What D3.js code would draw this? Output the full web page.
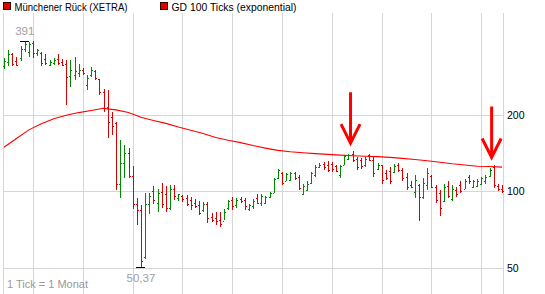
<!DOCTYPE html>
<html>
<head>
<meta charset="utf-8">
<script src="https://cdn.jsdelivr.net/npm/d3@7/dist/d3.min.js"></script>
<style>
  body { margin: 0; background: #fff; }
  svg { display: block; font-family: "Liberation Sans", Arial, sans-serif; }
</style>
</head>
<body>
<div id="chart"></div>
<script>
// monthly bars, June 2000 .. June 2010
const months = d3.timeMonth.range(new Date(2000, 5, 1), new Date(2010, 6, 1));

const open = [
  310, 322, 345, 325, 335, 362, 352, 382, 348, 350,
  330, 313, 318, 330, 322, 315, 283, 285, 290, 298,
  262, 285, 296, 275, 246, 215, 195, 185, 107, 129,
  141, 115, 89, 84, 55, 89, 100, 90, 99, 97,
  86, 102, 94, 96, 94, 92, 90, 88, 84, 89,
  79, 78, 77, 76, 86, 92, 88, 93, 92, 85,
  87, 94, 90, 90, 95, 98, 112, 118, 109, 110,
  118, 114, 97, 101, 108, 116, 124, 128, 127, 128,
  125, 116, 127, 134, 140, 134, 132, 126, 138, 133,
  122, 126, 118, 120, 119, 126, 121, 114, 106, 99,
  106, 95, 106, 115, 104, 98, 91, 105, 93, 101,
  106, 102, 114, 104, 105, 107, 109, 115, 124, 105, 102
];
const high = [
  335, 359, 350, 338, 372, 391, 387, 390, 362, 352,
  347, 328, 334, 347, 331, 328, 328, 337, 317, 305,
  286, 308, 299, 277, 251, 250, 205, 187, 159, 152,
  147, 125, 94, 88, 98, 98, 105, 102, 108, 105,
  106, 106, 97, 96.5, 96.5, 95, 93, 91, 90.5, 90.5,
  82, 83, 83, 85, 92, 95, 94, 95, 94, 89,
  93, 97, 97, 96, 99, 113, 122, 119, 118, 119,
  119, 116, 107, 109, 119, 126, 128.5, 130, 131, 130,
  126.5, 126.5, 138.5, 139.5, 143.5, 136.5, 134.5, 136.5, 139.5, 136.5,
  128.5, 126.5, 121, 124.5, 127.5, 128.5, 123, 117.5, 109, 115.5,
  107, 113, 123, 116, 105.5, 101, 106.5, 109.5, 105.5, 104,
  109, 111, 115.5, 110.5, 111, 114, 115.5, 123, 126, 106.5, 105.5
];
const low = [
  302, 309, 309, 309, 325, 352, 338, 335, 340, 309,
  314, 309, 314, 314, 309, 218, 257, 273, 282, 287,
  250, 282, 273, 239, 205, 162, 166, 101, 94, 112,
  112, 85, 73.5, 50.37, 54, 81, 89, 83, 86, 83,
  84, 92, 91, 90.5, 87, 84, 86, 80.5, 83, 75,
  75.5, 73.5, 72, 77, 84, 84, 86, 89.5, 84.5, 83.5,
  85, 89, 87, 89, 94, 98, 111, 105.5, 109, 109,
  110.5, 101, 96.5, 100, 107, 114, 123, 121, 119, 119,
  118.5, 112, 126.5, 132.5, 130, 121, 122, 124.5, 131, 114,
  121, 107, 110.5, 107, 117.5, 119, 109, 101, 102.5, 94,
  76, 93, 101, 102.5, 89.5, 80, 90.5, 93.5, 91.5, 95,
  98, 102, 107, 102.5, 104, 105.5, 107, 114, 102.5, 100, 98
];
const close = [
  325, 345, 315, 312, 362, 378, 380, 348, 358, 320,
  318, 322, 328, 320, 312, 280, 300, 296, 298, 290,
  278, 300, 278, 245, 212, 187, 180, 107, 129, 141,
  115, 89, 84, 53, 89, 96, 92, 98, 89, 86,
  102, 96, 97, 93, 89, 88, 87, 82, 89, 78,
  77, 76, 74, 83, 91, 87, 92, 91, 87, 88,
  91, 90, 96, 95, 98, 111, 121, 108, 117, 118,
  112, 103, 105, 107, 118, 124, 127, 124, 121, 122,
  120, 125, 137, 138, 132, 124, 125, 134, 133, 118,
  127, 110, 112, 109, 125, 121, 112, 104, 104, 110,
  95, 108, 118, 104, 92, 86, 104, 96, 102, 97,
  100, 109, 109, 109, 109, 112, 114, 121, 106, 102, 100
];

// GD 100 (exponential), read every third month
const emaIndex = d3.range(0, 121, 3);
const ema = [
  148.6, 161, 174, 184, 192.5, 198.5, 203.5, 207.5, 211.5, 208.5,
  203.5, 195, 189.5, 184.5, 178.5, 173.5, 168.5, 162.5, 158.3, 155,
  151, 147.5, 144.5, 142.8, 141.5, 140.3, 139.3, 138.4, 137.7, 137.1,
  136.5, 135.6, 134.4, 133, 131.6, 129.8, 128, 126.6, 125.1, 124.8, 124.2
];

const yTicks = [50, 100, 200];
const arrowAt = [83, 117];      // arrow sits between bar i and i+1
const legend = [
  { label: "Münchener Rück (XETRA)", w: 113 },
  { label: "GD 100 Ticks (exponential)", w: 125 }
];

const W = 545, H = 294;
const green = "#008a00", red = "#dd0000";

const svg = d3.select("#chart").append("svg")
  .attr("width", W).attr("height", H);

const x = d3.scaleLinear().domain([0, 120]).range([4, 502]);
const y = d3.scaleLog().domain([50, 400]).range([267.5, 38]);
const plotL = 3, plotR = 503, plotT = 13, plotB = H;

// grid
const grid = svg.append("g").attr("stroke", "#d6d6d6").attr("shape-rendering", "crispEdges");
const janIdx = months.map((m, i) => m.getMonth() === 0 ? i : -1).filter(i => i >= 0);
grid.selectAll("line.v").data(janIdx).join("line").attr("class", "v")
  .attr("x1", i => Math.round(x(i)) + 0.5).attr("x2", i => Math.round(x(i)) + 0.5)
  .attr("y1", plotT).attr("y2", plotB);
grid.selectAll("line.h").data(yTicks).join("line").attr("class", "h")
  .attr("x1", plotL).attr("x2", plotR)
  .attr("y1", d => Math.round(y(d)) + 0.5).attr("y2", d => Math.round(y(d)) + 0.5);
grid.append("line").attr("x1", plotL + 0.5).attr("x2", plotL + 0.5).attr("y1", plotT).attr("y2", plotB);
grid.append("line").attr("x1", plotR + 0.5).attr("x2", plotR + 0.5).attr("y1", plotT).attr("y2", plotB);

// y axis labels on the right
svg.append("g").selectAll("text").data(yTicks).join("text")
  .attr("x", 507).attr("y", d => y(d) + 4)
  .attr("font-size", 10.5).attr("fill", "#000")
  .text(d => d);

// OHLC bars
const rows = months.map((m, i) => ({ i, o: open[i], h: high[i], l: low[i], c: close[i] }));
const bar = svg.append("g").attr("shape-rendering", "crispEdges")
  .selectAll("g").data(rows).join("g")
  .attr("fill", d => d.c >= d.o ? green : red);
bar.append("rect")
  .attr("x", d => Math.round(x(d.i))).attr("width", 1)
  .attr("y", d => Math.round(y(d.h))).attr("height", d => Math.max(1, Math.round(y(d.l)) - Math.round(y(d.h))));
bar.append("rect")
  .attr("x", d => Math.round(x(d.i)) - 1).attr("width", 1)
  .attr("y", d => Math.round(y(d.o))).attr("height", 1);
bar.append("rect")
  .attr("x", d => Math.round(x(d.i)) + 1).attr("width", 1)
  .attr("y", d => Math.round(y(d.c))).attr("height", 1);

// moving average
svg.append("path")
  .datum(emaIndex.map((k, j) => [k, ema[j]]))
  .attr("fill", "none").attr("stroke", "#ff0000").attr("stroke-width", 1.1)
  .attr("d", d3.line().x(d => x(d[0])).y(d => y(d[1])));

// high / low markers
const hiI = d3.maxIndex(high), loI = d3.minIndex(low);
const fmt = v => String(v).replace(".", ",");
[[hiI, high[hiI], -5.5], [loI, low[loI], 15.5]].forEach(([i, v, dy]) => {
  svg.append("line").attr("shape-rendering", "crispEdges")
    .attr("x1", x(i) - 4.5).attr("x2", x(i) + 4.5)
    .attr("y1", Math.round(y(v)) + 0.5).attr("y2", Math.round(y(v)) + 0.5)
    .attr("stroke", "#000");
  svg.append("text").attr("x", x(i)).attr("y", y(v) + dy)
    .attr("text-anchor", "middle").attr("font-size", 11.5).attr("fill", "#a0a0a0")
    .text(fmt(v));
});

// arrows
arrowAt.forEach(i => {
  const ax = (x(i) + x(i + 1)) / 2;
  const tip = y(Math.max(high[i], high[i + 1])) - 8;
  svg.append("path")
    .attr("d", `M${ax},${tip - 51}L${ax},${tip}M${ax - 9.5},${tip - 19}L${ax},${tip}L${ax + 9.5},${tip - 19}`)
    .attr("fill", "none").attr("stroke", "#ff0000").attr("stroke-width", 3)
    .attr("stroke-linejoin", "miter");
});

// legend
const lg = svg.append("g").selectAll("g").data(legend).join("g")
  .attr("transform", (d, i) => `translate(${i ? 160.5 : 3.5},2.5)`);
lg.append("rect").attr("width", 7).attr("height", 7)
  .attr("fill", "#e00000").attr("stroke", "#300");
lg.append("text").attr("x", 11).attr("y", 8)
  .attr("font-size", 11).attr("fill", "#000")
  .attr("textLength", d => d.w).attr("lengthAdjust", "spacingAndGlyphs")
  .text(d => d.label);

svg.append("text").attr("x", 7).attr("y", 288)
  .attr("font-size", 11).attr("fill", "#999")
  .text("1 Tick = 1 Monat");
</script>
</body>
</html>
